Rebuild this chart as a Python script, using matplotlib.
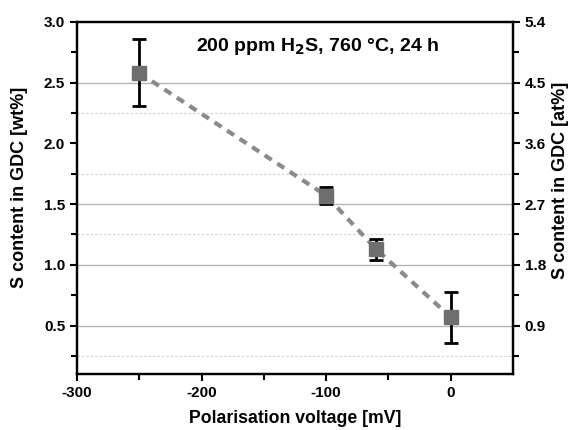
import numpy as np
import matplotlib.pyplot as plt

plt.rcParams['font.family'] = ['Liberation Sans', 'DejaVu Sans']
plt.rcParams['font.weight'] = 'bold'
plt.rcParams['axes.unicode_minus'] = False

# data
voltage = [-250, -100, -60, 0]
s_wt = [2.58, 1.57, 1.13, 0.57]
err_hi = [2.86, 1.64, 1.215, 0.78]
err_lo = [2.31, 1.50, 1.04, 0.36]

wt_to_at = 1.8
solid_grid = [0.5, 1.0, 1.5, 2.5]
dotted_grid = [0.25, 1.25, 1.75, 2.25]
right_ticks = [0.9, 1.8, 2.7, 3.6, 4.5, 5.4]

fig = plt.figure(figsize=(5.75, 4.3), dpi=100)
ax = fig.add_axes([0.134, 0.130, 0.758, 0.819])

for g in solid_grid:
    ax.axhline(g, color='#b4b4b4', lw=1.0, zorder=0)
for g in dotted_grid:
    ax.axhline(g, color='#d0d0d0', lw=0.8, ls=(0, (2, 2)), zorder=0)

yerr = [np.array(s_wt) - np.array(err_lo), np.array(err_hi) - np.array(s_wt)]
ax.plot(voltage, s_wt, ls=(0, (2.0, 1.6)), color='#8a8a8a', lw=3.0, zorder=2)
ax.errorbar(voltage, s_wt, yerr=yerr, fmt='none', ecolor='black',
            elinewidth=2, capsize=5, capthick=2, zorder=3)
ax.plot(voltage, s_wt, 's', color='#6e6e6e', ms=10, zorder=4)

ax.set_xlim(-300, 50)
ax.set_ylim(0.1, 3.0)
ax.set_xticks([-300, -200, -100, 0])
ax.set_xticks([-250, -150, -50], minor=True)
ax.set_yticks([0.5, 1.0, 1.5, 2.0, 2.5, 3.0])
ax.set_yticks([0.25, 0.75, 1.25, 1.75, 2.25, 2.75], minor=True)
ax.tick_params(which='both', direction='out', width=1.5, labelsize=11)
ax.tick_params(which='major', length=5)
ax.tick_params(which='minor', length=4)
for s in ax.spines.values():
    s.set_linewidth(1.6)

ax.set_xlabel('Polarisation voltage [mV]', fontsize=12.7, fontweight='bold', labelpad=7)
ax.set_ylabel('S content in GDC [wt%]', fontsize=13, fontweight='bold')
ax.yaxis.set_label_coords(-0.112, 0.531)

ax2 = ax.twinx()
ax2.set_ylim(0.1 * wt_to_at, 3.0 * wt_to_at)
ax2.set_yticks(right_ticks)
ax2.set_yticks([t + 0.45 for t in [0.0] + right_ticks[:-1]], minor=True)
ax2.tick_params(which='both', direction='out', width=1.5, labelsize=11)
ax2.tick_params(which='major', length=5)
ax2.tick_params(which='minor', length=4)
for s in ax2.spines.values():
    s.set_linewidth(1.6)
ax2.set_ylabel('S content in GDC [at%]', fontsize=13, fontweight='bold')
ax2.yaxis.set_label_coords(1.089, 0.551)

ax.text(0.553, 0.929, '200 ppm H$_\\mathbf{2}$S, 760 °C, 24 h', transform=ax.transAxes,
        ha='center', va='center', fontsize=14, fontweight='bold')

fig.savefig('out.png', dpi=100)
